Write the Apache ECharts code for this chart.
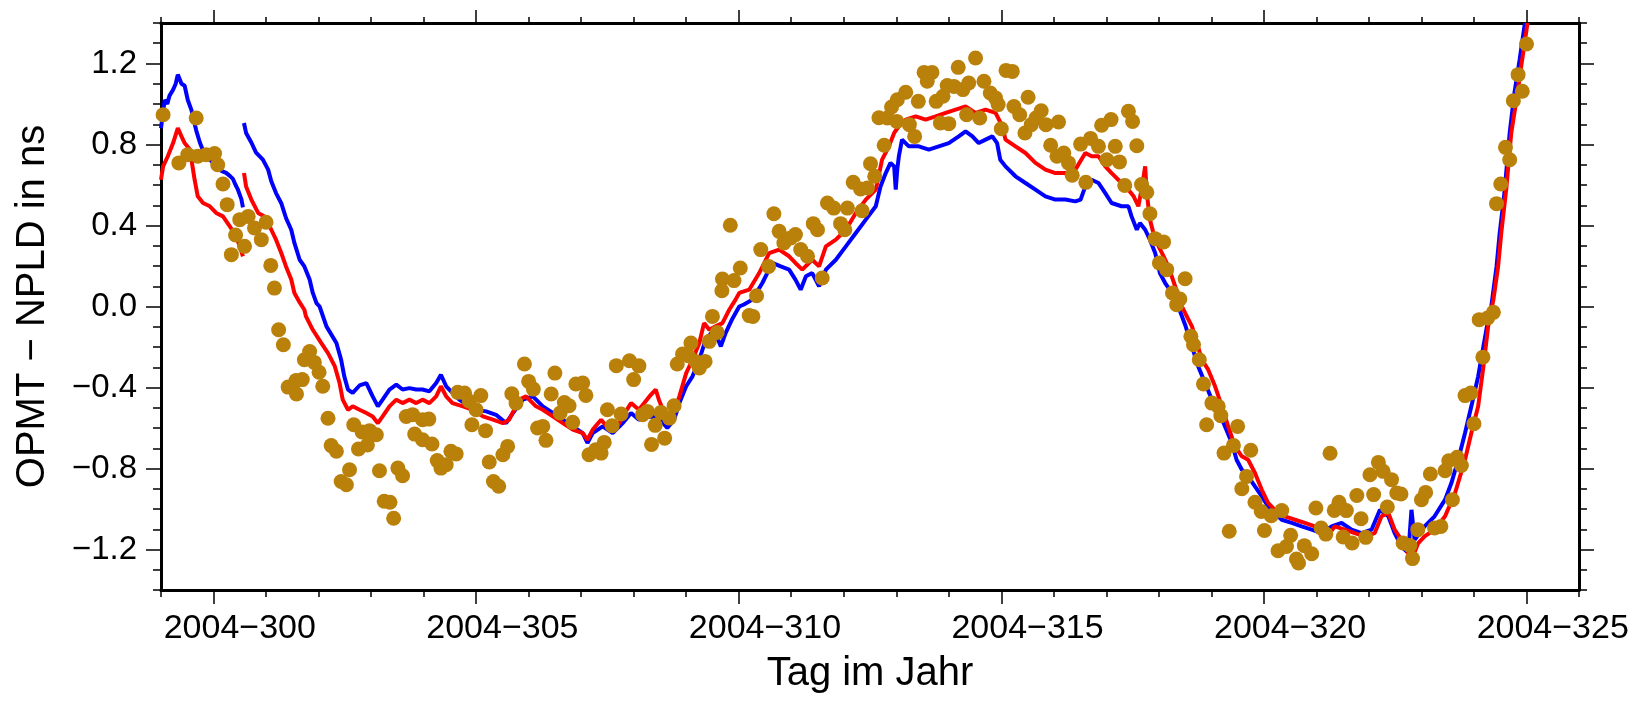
<!DOCTYPE html>
<html>
<head>
<meta charset="utf-8">
<script src="https://cdn.jsdelivr.net/npm/echarts@6/dist/echarts.min.js"></script>
<style>
  html, body { margin: 0; padding: 0; background: #fff; }
  #main { width: 1646px; height: 702px; }
</style>
</head>
<body>
<div id="main"></div>
<script>
// tick positions and labels
const xMajorDays = [300, 305, 310, 315, 320, 325];
const xMinorDays = [299, 300, 301, 302, 303, 304, 305, 306, 307, 308, 309, 310, 311, 312, 313,
  314, 315, 316, 317, 318, 319, 320, 321, 322, 323, 324, 325, 326];
// labels sit in the middle of the annotated day
const xLabelAt = [300.5, 305.5, 310.5, 315.5, 320.5, 325.5];
const xLabelText = ['2004−300', '2004−305', '2004−310', '2004−315', '2004−320', '2004−325'];
const yMajor = [-1.2, -0.8, -0.4, 0, 0.4, 0.8, 1.2];
const yLabelText = ['−1.2', '−0.8', '−0.4', '0.0', '0.4', '0.8', '1.2'];
const yMinor = [-1.4, -1.3, -1.2, -1.1, -1.0, -0.9, -0.8, -0.7, -0.6, -0.5, -0.4, -0.3, -0.2, -0.1, 0,
  0.1, 0.2, 0.3, 0.4, 0.5, 0.6, 0.7, 0.8, 0.9, 1.0, 1.1, 1.2, 1.3, 1.4];

// blue series, [day, ns]; it jumps near day 300.57
const blueSeg1 = [[299.0,0.88],[299.04,0.96],[299.07,1.02],[299.12,1.0],[299.16,1.04],[299.23,1.07],[299.28,1.1],
  [299.32,1.145],[299.36,1.12],[299.39,1.1],[299.45,1.09],[299.51,1.02],[299.58,0.97],[299.67,0.87],[299.74,0.81],
  [299.8,0.77],[299.86,0.74],[299.95,0.72],[300.05,0.69],[300.15,0.67],[300.24,0.66],[300.31,0.645],[300.37,0.63],
  [300.42,0.6],[300.46,0.58],[300.53,0.53],[300.56,0.49]];
const blueSeg2 = [[300.58,0.906],[300.62,0.857],[300.72,0.81],[300.81,0.76],[300.94,0.725],[301.04,0.676],[301.1,0.618],
  [301.19,0.56],[301.29,0.51],[301.38,0.437],[301.48,0.379],[301.54,0.314],[301.64,0.231],[301.73,0.198],[301.83,0.133],
  [301.89,0.067],[301.96,0.017],[302.02,0.0],[302.15,-0.098],[302.34,-0.18],[302.43,-0.263],[302.49,-0.345],[302.56,-0.41],
  [302.65,-0.427],[302.78,-0.39],[302.91,-0.378],[303.03,-0.444],[303.13,-0.493],[303.22,-0.46],[303.35,-0.41],
  [303.48,-0.386],[303.6,-0.41],[303.73,-0.403],[303.86,-0.41],[303.98,-0.41],[304.11,-0.419],[304.24,-0.378],
  [304.33,-0.337],[304.43,-0.394],[304.55,-0.427],[304.68,-0.46],[304.87,-0.493],[305.0,-0.51],[305.19,-0.518],
  [305.38,-0.535],[305.57,-0.576],[305.7,-0.526],[305.89,-0.46],[306.08,-0.444],[306.27,-0.493],[306.46,-0.526],
  [306.65,-0.559],[306.84,-0.592],[307.03,-0.625],[307.12,-0.674],[307.22,-0.625],[307.41,-0.592],[307.6,-0.625],
  [307.73,-0.592],[307.79,-0.576],[307.95,-0.526],[308.1,-0.559],[308.3,-0.543],[308.48,-0.551],[308.64,-0.6],
  [308.77,-0.559],[308.87,-0.477],[309.0,-0.394],[309.12,-0.345],[309.25,-0.263],[309.37,-0.164],[309.53,-0.115],
  [309.66,-0.197],[309.75,-0.131],[309.88,-0.06],[310.01,0.0],[310.1,0.01],[310.26,0.034],[310.45,0.116],[310.64,0.215],
  [310.8,0.198],[310.96,0.182],[311.08,0.133],[311.18,0.083],[311.28,0.149],[311.4,0.165],[311.53,0.1],[311.66,0.182],
  [311.85,0.231],[312.04,0.297],[312.23,0.363],[312.42,0.429],[312.61,0.495],[312.7,0.593],[312.8,0.659],[312.89,0.709],
  [312.96,0.692],[312.99,0.577],[313.02,0.68],[313.05,0.742],[313.11,0.824],[313.24,0.791],[313.43,0.791],[313.62,0.775],
  [313.81,0.791],[314.0,0.807],[314.19,0.84],[314.32,0.865],[314.45,0.84],[314.57,0.807],[314.7,0.824],[314.83,0.84],
  [314.92,0.807],[314.98,0.725],[315.08,0.692],[315.27,0.643],[315.46,0.61],[315.65,0.577],[315.84,0.544],[316.03,0.528],
  [316.22,0.528],[316.41,0.519],[316.51,0.528],[316.6,0.593],[316.72,0.626],[316.85,0.61],[316.98,0.56],[317.1,0.511],
  [317.29,0.495],[317.42,0.495],[317.48,0.445],[317.58,0.379],[317.64,0.412],[317.74,0.379],[317.83,0.33],[317.93,0.264],
  [318.02,0.165],[318.12,0.116],[318.25,0.067],[318.37,0.0],[318.5,-0.09],[318.63,-0.197],[318.75,-0.296],[318.88,-0.378],
  [319.01,-0.46],[319.13,-0.51],[319.26,-0.592],[319.39,-0.674],[319.48,-0.757],[319.58,-0.806],[319.7,-0.839],
  [319.83,-0.888],[319.96,-0.938],[320.08,-0.987],[320.21,-1.02],[320.34,-1.053],[320.53,-1.069],[320.72,-1.086],
  [320.91,-1.102],[321.1,-1.119],[321.29,-1.086],[321.48,-1.069],[321.67,-1.102],[321.86,-1.119],[322.05,-1.102],
  [322.21,-1.004],[322.37,-1.036],[322.49,-1.119],[322.62,-1.185],[322.75,-1.218],[322.81,-1.004],[322.87,-1.152],
  [323.06,-1.086],[323.25,-1.036],[323.45,-0.954],[323.57,-0.872],[323.7,-0.757],[323.83,-0.625],[323.95,-0.493],
  [324.08,-0.345],[324.18,-0.197],[324.27,-0.065],[324.33,0.0],[324.43,0.198],[324.49,0.363],[324.58,0.56],
  [324.68,0.857],[324.77,1.054],[324.87,1.219],[324.97,1.4]];

// red series, same jump
const redSeg1 = [[299.0,0.626],[299.04,0.692],[299.13,0.742],[299.23,0.807],[299.32,0.881],[299.39,0.84],[299.45,0.807],
  [299.55,0.775],[299.6,0.692],[299.64,0.626],[299.7,0.544],[299.8,0.511],[299.93,0.495],[300.05,0.462],[300.18,0.445],
  [300.31,0.396],[300.43,0.346],[300.5,0.297],[300.56,0.248]];
const redSeg2 = [[300.58,0.659],[300.62,0.593],[300.72,0.528],[300.85,0.462],[300.97,0.445],[301.1,0.379],[301.19,0.33],
  [301.29,0.264],[301.38,0.198],[301.48,0.133],[301.54,0.067],[301.64,0.02],[301.73,-0.016],[301.76,-0.049],
  [301.89,-0.115],[302.05,-0.18],[302.18,-0.23],[302.31,-0.296],[302.4,-0.378],[302.46,-0.46],[302.56,-0.51],
  [302.65,-0.493],[302.78,-0.51],[302.91,-0.526],[303.03,-0.543],[303.13,-0.576],[303.22,-0.543],[303.35,-0.493],
  [303.48,-0.46],[303.6,-0.477],[303.73,-0.46],[303.86,-0.477],[303.98,-0.46],[304.11,-0.477],[304.24,-0.444],
  [304.33,-0.394],[304.43,-0.444],[304.55,-0.477],[304.75,-0.493],[304.94,-0.51],[305.13,-0.543],[305.32,-0.559],
  [305.51,-0.576],[305.63,-0.559],[305.82,-0.46],[305.95,-0.444],[306.14,-0.493],[306.27,-0.51],[306.46,-0.543],
  [306.65,-0.576],[306.84,-0.608],[307.03,-0.625],[307.12,-0.658],[307.22,-0.608],[307.38,-0.559],[307.54,-0.608],
  [307.73,-0.576],[307.79,-0.543],[307.95,-0.477],[308.1,-0.51],[308.3,-0.444],[308.42,-0.41],[308.48,-0.46],
  [308.61,-0.543],[308.74,-0.543],[308.87,-0.444],[309.0,-0.329],[309.12,-0.263],[309.25,-0.18],[309.34,-0.082],
  [309.44,-0.115],[309.56,-0.098],[309.69,-0.082],[309.82,-0.016],[309.94,0.034],[310.01,0.067],[310.2,0.083],
  [310.39,0.165],[310.58,0.264],[310.77,0.281],[310.96,0.248],[311.08,0.215],[311.21,0.182],[311.4,0.231],[311.53,0.198],
  [311.66,0.297],[311.85,0.33],[312.04,0.379],[312.23,0.462],[312.42,0.528],[312.61,0.577],[312.73,0.725],[312.86,0.791],
  [312.96,0.857],[313.05,0.89],[313.18,0.923],[313.37,0.939],[313.56,0.923],[313.75,0.939],[313.94,0.956],[314.13,0.972],
  [314.32,0.988],[314.51,0.956],[314.7,0.972],[314.89,0.956],[315.02,0.89],[315.08,0.824],[315.27,0.791],[315.46,0.758],
  [315.65,0.709],[315.84,0.676],[316.03,0.659],[316.22,0.659],[316.41,0.676],[316.6,0.758],[316.72,0.742],[316.85,0.742],
  [316.98,0.692],[317.1,0.659],[317.29,0.61],[317.42,0.577],[317.52,0.544],[317.61,0.495],[317.68,0.593],[317.74,0.692],
  [317.77,0.56],[317.83,0.429],[317.93,0.33],[318.06,0.264],[318.18,0.198],[318.31,0.1],[318.44,0.0],[318.5,-0.032],
  [318.63,-0.098],[318.82,-0.263],[318.94,-0.312],[319.07,-0.394],[319.2,-0.493],[319.32,-0.592],[319.45,-0.691],
  [319.58,-0.74],[319.7,-0.757],[319.83,-0.822],[319.96,-0.905],[320.08,-0.97],[320.21,-1.004],[320.4,-1.036],
  [320.59,-1.053],[320.78,-1.069],[320.97,-1.086],[321.16,-1.152],[321.35,-1.086],[321.54,-1.102],[321.73,-1.119],
  [321.92,-1.135],[322.11,-1.119],[322.24,-1.036],[322.37,-1.02],[322.49,-1.102],[322.62,-1.152],[322.81,-1.25],
  [322.94,-1.168],[323.06,-1.135],[323.25,-1.102],[323.45,-1.036],[323.64,-0.921],[323.83,-0.757],[323.95,-0.625],
  [324.08,-0.493],[324.18,-0.296],[324.27,-0.098],[324.37,0.034],[324.46,0.198],[324.52,0.363],[324.62,0.593],
  [324.71,0.857],[324.81,1.021],[324.9,1.186],[325.02,1.4]];

// gold dots
const goldDots = [[299.04,0.947],[299.67,0.931],[299.34,0.709],[299.51,0.75],[299.7,0.742],[299.86,0.75],[300.02,0.755],
  [300.08,0.7],[300.18,0.605],[300.26,0.503],[300.5,0.429],[300.66,0.445],[300.78,0.388],[300.91,0.33],[301.0,0.416],
  [300.42,0.353],[300.59,0.297],[300.34,0.256],[301.09,0.203],[301.16,0.091],
  [301.24,-0.115],[301.33,-0.189],[301.83,-0.222],[301.73,-0.263],[301.92,-0.276],[302.01,-0.325],[302.08,-0.394],
  [301.42,-0.398],[301.57,-0.366],[301.69,-0.361],[301.58,-0.432],[302.18,-0.552],[302.24,-0.687],[302.34,-0.715],
  [302.59,-0.806],[302.43,-0.864],[302.53,-0.88],[302.67,-0.584],[302.83,-0.62],[302.97,-0.613],[303.1,-0.633],
  [302.93,-0.684],[302.76,-0.704],[303.16,-0.811],[303.25,-0.962],[303.36,-0.967],[303.43,-1.046],[303.51,-0.798],
  [303.6,-0.836],[303.67,-0.543],[303.79,-0.534],[303.83,-0.63],[303.98,-0.658],[304.16,-0.679],[303.98,-0.559],
  [304.1,-0.556],[304.26,-0.761],[304.33,-0.798],[304.43,-0.781],[304.52,-0.715],[304.62,-0.728],[304.65,-0.424],
  [304.78,-0.427],[304.87,-0.468],[305.0,-0.51],[305.09,-0.44],[304.92,-0.584],[305.18,-0.613],[305.25,-0.768],
  [305.33,-0.864],[305.43,-0.888],[305.51,-0.732],[305.6,-0.691],[305.68,-0.431],[305.76,-0.477],[305.92,-0.284],
  [306.0,-0.37],[306.09,-0.408],[306.5,-0.329],[306.43,-0.432],[306.17,-0.6],[306.27,-0.592],[306.33,-0.661],
  [306.6,-0.526],[306.68,-0.474],[306.77,-0.49],[306.84,-0.572],[306.9,-0.383],[307.03,-0.378],[307.09,-0.439],
  [307.15,-0.732],[307.28,-0.707],[307.38,-0.724],[307.44,-0.671],[307.5,-0.51],[307.59,-0.589],[307.67,-0.292],
  [307.76,-0.531],[307.92,-0.268],[308.0,-0.361],
  [308.1,-0.293],[308.17,-0.534],[308.26,-0.518],[308.41,-0.587],[308.34,-0.681],[308.52,-0.523],[308.59,-0.65],
  [308.68,-0.551],[308.77,-0.49],[308.83,-0.284],[308.93,-0.235],[309.09,-0.18],[309.04,-0.243],[309.18,-0.271],
  [309.25,-0.304],[309.36,-0.271],[309.44,-0.172],[309.5,-0.049],[309.59,-0.128],[310.2,-0.045],[310.27,-0.049],
  [309.84,0.401],[309.69,0.136],[309.68,0.078],[309.91,0.128],[310.03,0.19],[310.34,0.053],[310.42,0.281],[310.57,0.198],
  [310.67,0.458],[310.77,0.371],[310.86,0.314],[310.99,0.338],[311.08,0.355],[311.18,0.281],[311.31,0.248],[311.42,0.409],
  [311.5,0.379],[311.59,0.141],[311.69,0.511],[311.81,0.486],[311.94,0.409],[312.02,0.379],[312.07,0.486],[312.18,0.613],
  [312.32,0.58],[312.45,0.585],[312.35,0.473],[312.51,0.705],[312.59,0.643],[312.77,0.796],[312.67,0.932],[312.83,0.931],
  [312.91,0.985],[313.02,1.021],[313.18,1.058],[313.01,0.914],[313.25,0.898],[313.35,0.84],[313.42,1.013],[313.53,1.156],
  [313.68,1.156],[313.59,1.112],[313.76,1.013],[313.89,1.038],[313.84,0.906],[314.0,0.903],[313.97,1.091],[314.1,1.087],
  [314.18,1.181],[314.27,1.071],[314.38,1.104],[314.51,1.227],[314.34,0.947],[314.59,0.931],[314.67,1.112],[314.79,1.054],
  [314.89,1.03],[314.94,0.997],[315.0,0.878],[315.09,1.166],[315.21,1.161],[315.24,0.988],[315.35,0.947],[315.51,1.033],
  [315.45,0.857],[315.57,0.898],[315.66,0.931],[315.76,0.967],[315.85,0.898],[315.94,0.796],[316.09,0.911],[316.06,0.742],
  [316.19,0.758],[316.28,0.709],[316.35,0.648],[316.51,0.802],[316.61,0.613],[316.7,0.83],
  [316.85,0.791],[316.91,0.895],[317.09,0.923],[317.01,0.725],[317.17,0.791],[317.25,0.714],[317.35,0.598],[317.42,0.964],
  [317.5,0.914],[317.58,0.794],[317.67,0.602],[317.77,0.564],[317.83,0.458],[317.93,0.335],[318.09,0.319],[318.01,0.215],
  [318.15,0.182],[318.5,0.137],[318.26,0.067],[318.4,0.037],[318.34,0.009],
  [318.61,-0.147],[318.66,-0.189],[318.77,-0.263],[318.85,-0.383],[319.01,-0.477],[319.13,-0.493],[319.18,-0.539],
  [318.91,-0.584],[319.5,-0.592],[319.42,-0.686],[319.24,-0.724],[319.75,-0.71],[319.67,-0.839],[319.58,-0.9],
  [321.26,-0.725],[319.34,-1.11],[319.83,-0.967],[319.95,-1.012],[320.01,-1.106],[320.14,-1.033],[320.34,-1.008],
  [320.27,-1.206],[320.43,-1.185],[320.51,-1.13],[320.62,-1.247],[320.66,-1.267],[320.77,-1.181],[320.91,-1.221],
  [320.99,-0.995],[321.09,-1.094],[321.18,-1.124],[321.34,-1.007],[321.43,-0.967],[321.57,-1.008],[321.51,-1.138],
  [321.68,-1.168],[321.77,-0.933],[321.85,-1.048],[321.94,-1.14],[322.02,-0.831],[322.09,-0.929],[322.18,-0.77],
  [322.27,-0.814],[322.35,-0.99],[322.43,-0.855],[322.53,-0.921],[322.61,-0.926],[322.65,-1.168],[322.78,-1.18],
  [322.83,-1.245],[322.93,-1.102],[323.0,-0.954],[323.08,-0.918],[323.17,-0.827],[323.25,-1.094],[323.37,-1.086],
  [323.45,-0.811],[323.52,-0.762],[323.68,-0.745],[323.76,-0.785],[323.59,-0.954],[324.0,-0.579],[323.83,-0.44],
  [323.94,-0.427],[324.17,-0.25],[324.1,-0.065],[324.26,-0.057],[324.37,-0.029],
  [324.43,0.508],[324.51,0.605],[324.6,0.786],[324.68,0.725],[324.75,1.016],[324.84,1.145],[324.92,1.063],[325.0,1.296]];

const FONT = 'Liberation Sans';

function findLabel(vals, texts, v) {
  const i = vals.findIndex(d => Math.abs(d - v) < 1e-6);
  return i < 0 ? '' : texts[i];
}

// one axis per tick set; the major ones also draw the frame line
function xAxisDef(pos, ticks, len, withLine) {
  return {
    type: 'value', min: 299, max: 326, position: pos,
    axisLine: { show: withLine, onZero: false, lineStyle: { color: '#000', width: 3 } },
    axisTick: { show: true, customValues: ticks, length: len, lineStyle: { color: '#000', width: 1.5 } },
    axisLabel: { show: false },
    splitLine: { show: false }
  };
}
function yAxisDef(pos, ticks, len, withLine) {
  return {
    type: 'value', min: -1.4, max: 1.4, position: pos,
    axisLine: { show: withLine, onZero: false, lineStyle: { color: '#000', width: 3 } },
    axisTick: { show: true, customValues: ticks, length: len, lineStyle: { color: '#000', width: 1.5 } },
    axisLabel: { show: false },
    splitLine: { show: false }
  };
}

const xBottom = xAxisDef('bottom', xMajorDays, 14, true);
xBottom.axisLabel = {
  show: true, customValues: xLabelAt, margin: 22,
  color: '#000', fontSize: 34, fontFamily: FONT,
  formatter: v => findLabel(xLabelAt, xLabelText, v)
};
xBottom.name = 'Tag im Jahr';
xBottom.nameLocation = 'middle';
xBottom.nameGap = 64;
xBottom.nameTextStyle = { color: '#000', fontSize: 40, fontFamily: FONT };

const yLeft = yAxisDef('left', yMajor, 15, true);
yLeft.axisLabel = {
  show: true, customValues: yMajor, margin: 24,
  color: '#000', fontSize: 33, fontFamily: FONT,
  formatter: v => findLabel(yMajor, yLabelText, v)
};
yLeft.name = 'OPMT − NPLD in ns';
yLeft.nameLocation = 'middle';
yLeft.nameRotate = 90;
yLeft.nameGap = 108;
yLeft.nameTextStyle = { color: '#000', fontSize: 40, fontFamily: FONT };

const chart = echarts.init(document.getElementById('main'));
chart.setOption({
  animation: false,
  backgroundColor: '#fff',
  textStyle: { fontFamily: FONT },
  grid: { left: 161, right: 67, top: 23, bottom: 112, outerBoundsMode: 'none' },
  xAxis: [
    xBottom,
    xAxisDef('bottom', xMinorDays, 7, false),
    xAxisDef('top', xMajorDays, 13, true),
    xAxisDef('top', xMinorDays, 6, false)
  ],
  yAxis: [
    yLeft,
    yAxisDef('left', yMinor, 8, false),
    yAxisDef('right', yMajor, 15, true),
    yAxisDef('right', yMinor, 8, false)
  ],
  series: [
    { type: 'line', data: blueSeg1, symbol: 'none', lineStyle: { color: '#0000ff', width: 4 }, z: 2 },
    { type: 'line', data: blueSeg2, symbol: 'none', lineStyle: { color: '#0000ff', width: 4 }, z: 2 },
    { type: 'line', data: redSeg1, symbol: 'none', lineStyle: { color: '#ff0000', width: 4 }, z: 3 },
    { type: 'line', data: redSeg2, symbol: 'none', lineStyle: { color: '#ff0000', width: 4 }, z: 3 },
    { type: 'scatter', data: goldDots, symbolSize: 15, itemStyle: { color: '#b9800a', opacity: 1 }, z: 4 }
  ]
});
</script>
</body>
</html>
